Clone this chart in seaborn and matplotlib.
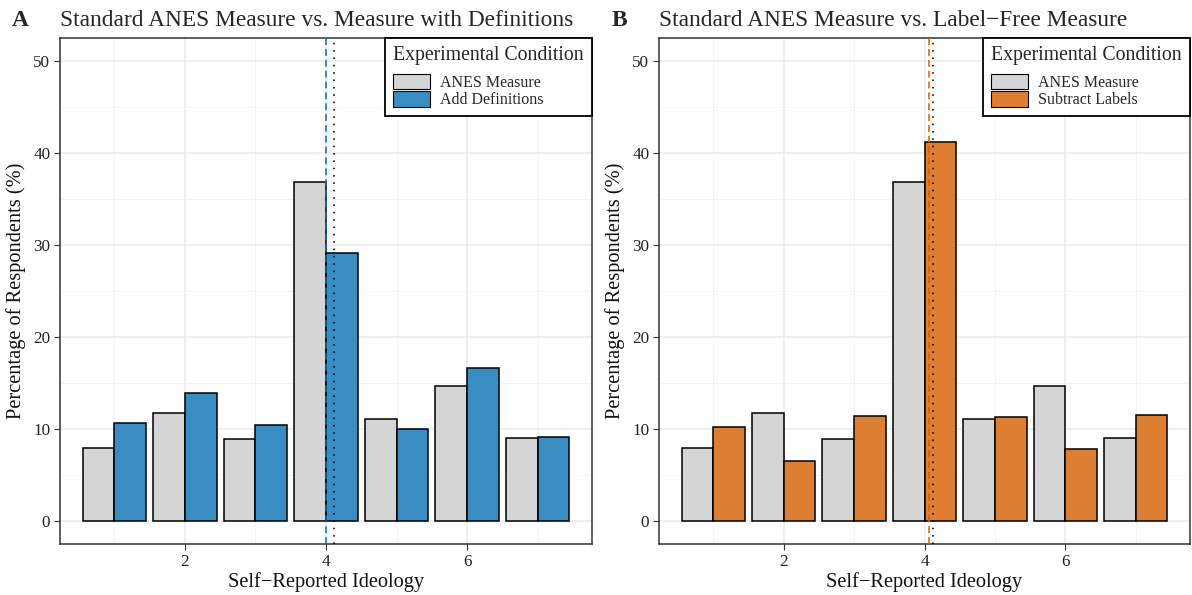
import numpy as np
import pandas as pd
import matplotlib
matplotlib.use("Agg")
import matplotlib.pyplot as plt
from matplotlib.patches import Patch
import seaborn as sns

# ---- data ----
ideology = [1, 2, 3, 4, 5, 6, 7]
anes = [7.9, 11.7, 8.9, 36.9, 11.1, 14.7, 9.0]
add_def = [10.6, 13.9, 10.4, 29.1, 10.0, 16.6, 9.1]
sub_lab = [10.2, 6.5, 11.4, 41.2, 11.3, 7.8, 11.5]

cond_anes = "ANES Measure"
cond_def = "Add Definitions"
cond_sub = "Subtract Labels"

titles = ["Standard ANES Measure vs. Measure with Definitions",
          "Standard ANES Measure vs. Label\u2212Free Measure"]
panel_tags = ["A", "B"]
xlabel = "Self\u2212Reported Ideology"
ylabel = "Percentage of Respondents (%)"

gray = "#D5D5D5"
blue_line, orange_line = "#0072B2", "#D55E00"
blue_fill, orange_fill = "#3A8DC3", "#DE7E32"

sns.set_theme(style="white")
plt.rcParams['font.family'] = ['Liberation Serif', 'DejaVu Serif']

fig = plt.figure(figsize=(11.92, 5.95), dpi=100)
axA = fig.add_axes([60/1192, 1-544/595, (592-60)/1192, (544-38)/595])
axB = fig.add_axes([659/1192, 1-544/595, (1190-659)/1192, (544-38)/595])

panels = [
    (axA, add_def, cond_def, blue_fill, blue_line),
    (axB, sub_lab, cond_sub, orange_fill, orange_line),
]

for i, (ax, treat, cname, fill, lcol) in enumerate(panels):
    df = pd.DataFrame({
        "x": ideology * 2,
        "pct": anes + treat,
        "cond": [cond_anes] * 7 + [cname] * 7,
    })
    # grid
    ax.set_xticks([1, 3, 5, 7], minor=True)
    ax.set_yticks([5, 15, 25, 35, 45], minor=True)
    ax.grid(True, which="major", color="#EBEBEB", lw=1.1, zorder=0)
    ax.grid(True, which="minor", color="#F2F2F2", lw=0.6, zorder=0)
    ax.set_axisbelow(True)

    sns.barplot(data=df, x="x", y="pct", hue="cond", native_scale=True,
                palette={cond_anes: gray, cname: fill}, width=0.9,
                edgecolor="black", linewidth=1.1, saturation=1,
                errorbar=None, ax=ax, legend=False, zorder=2)

    m_anes = np.sum(np.array(ideology) * np.array(anes)) / np.sum(anes)
    m_treat = np.sum(np.array(ideology) * np.array(treat)) / np.sum(treat)
    ax.axvline(m_treat, color=lcol, ls=(0, (4.5, 2.6)), lw=1.1, zorder=3)
    ax.axvline(m_anes, color="black", ls=(0, (1, 3.6)), lw=1.15, zorder=3)

    ax.set_xlim(0.2275, 7.7725)
    ax.set_ylim(-2.5, 52.5)
    ax.set_xticks([2, 4, 6])
    ax.set_yticks([0, 10, 20, 30, 40, 50])
    ax.tick_params(axis="both", which="major", length=4, width=0.8,
                   color="#333333", labelsize=12.3, labelcolor="#222222",
                   direction="out", bottom=True, left=True, pad=3)
    ax.tick_params(which="minor", length=0)
    for s in ax.spines.values():
        s.set_color("#333333")
        s.set_linewidth(1.1)
    ax.set_xlabel(xlabel, fontsize=14.7, color="#111111", labelpad=2)
    ax.set_ylabel(ylabel, fontsize=14.7, color="#111111", labelpad=5)

    handles = [Patch(facecolor=gray, edgecolor="black", lw=0.8),
               Patch(facecolor=fill, edgecolor="black", lw=0.8)]
    leg = ax.legend(handles, [cond_anes, cname], title="Experimental Condition",
                    loc="upper right", bbox_to_anchor=(1.0, 1.0),
                    borderaxespad=0, fancybox=False, frameon=True,
                    fontsize=11.5, title_fontsize=14.2, labelspacing=0,
                    handlelength=2.3, handleheight=1.11, handletextpad=0.6,
                    borderpad=0.5)
    leg.get_frame().set_edgecolor("black")
    leg.get_frame().set_linewidth(1.3)
    leg.get_frame().set_alpha(1)
    leg._legend_box.align = "left"
    leg._legend_box.sep = 6.5

    fig.text(12/1192 if i == 0 else 612/1192, 1-26/595, panel_tags[i],
             fontsize=16.8, fontweight="bold", ha="left", va="baseline")
    fig.text(60/1192 if i == 0 else 659/1192, 1-26/595, titles[i],
             fontsize=16.8, ha="left", va="baseline")

fig.savefig("out.png", dpi=100)
